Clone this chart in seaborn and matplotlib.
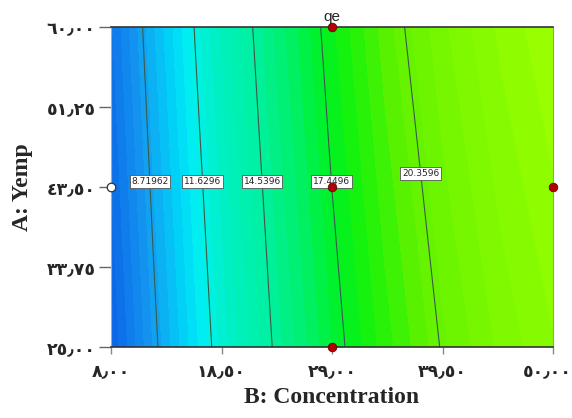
import numpy as np
import matplotlib
matplotlib.use("Agg")
import matplotlib.pyplot as plt
import matplotlib.transforms as mtransforms
import seaborn as sns
import pandas as pd
from matplotlib.colors import LinearSegmentedColormap

# ---- data ----
conc = [8.0, 12.0, 16.0, 20.0, 24.0, 29.0, 34.0, 39.5, 45.0, 50.0]      # B: Concentration
temp = [25.0, 42.5, 60.0]                                                # A: Temp
qe_t25 = [5.92, 8.45, 10.79, 12.93, 14.87, 17.01, 18.79, 20.44, 21.71, 22.54]
qe_t42 = [6.37, 8.90, 11.24, 13.38, 15.32, 17.46, 19.29, 20.94, 22.21, 23.04]
qe_t60 = [6.82, 9.35, 11.69, 13.83, 15.77, 17.91, 19.79, 21.44, 22.71, 23.54]
contour_levels = [8.71962, 11.6296, 14.5396, 17.4496, 20.3596]
level_labels = ["8.71962", "11.6296", "14.5396", "17.4496", "20.3596"]
label_pos_conc = [11.7, 16.6, 22.3, 28.8, 37.6]
label_pos_temp = [43.1, 43.1, 43.1, 43.1, 44.0]
design_conc = [29.0, 29.0, 29.0, 50.0]
design_temp = [60.0, 42.5, 25.0, 42.5]
design_conc_open = [8.0]
design_temp_open = [42.5]
x_ticks = [8.0, 18.5, 29.0, 39.5, 50.0]
x_ticklabels = ["٨٫٠٠", "١٨٫٥٠", "٢٩٫٠٠", "٣٩٫٥٠", "٥٠٫٠٠"]
y_ticks = [25.0, 33.75, 42.5, 51.25, 60.0]
y_ticklabels = ["٢٥٫٠٠", "٣٣٫٧٥", "٤٣٫٥٠", "٥١٫٢٥", "٦٠٫٠٠"]

sns.set_theme(style="white")
plt.rcParams['font.family'] = ['DejaVu Sans']

fig = plt.figure(figsize=(5.72, 4.18), dpi=100)
ax = fig.add_axes([111/572, 1-347/418, 442/572, 320/418])

Z = np.array([qe_t25, qe_t42, qe_t60])
X, Y = np.meshgrid(conc, temp)

zmin, zmax = 5.9, 23.6
stops = [(5.9, (10, 100, 232)), (8.3, (20, 150, 240)), (10.4, (0, 215, 248)),
         (11.3, (0, 240, 240)), (12.5, (0, 240, 200)), (14.5, (0, 240, 160)),
         (16.0, (0, 240, 110)), (17.5, (0, 242, 35)), (18.5, (25, 242, 10)),
         (20.0, (95, 242, 0)), (23.6, (155, 255, 0))]
cmap = LinearSegmentedColormap.from_list(
    "de", [((z - zmin) / (zmax - zmin), tuple(c / 255 for c in col)) for z, col in stops])

fill_levels = np.linspace(zmin, zmax, 36)
ax.contourf(X, Y, Z, levels=fill_levels, cmap=cmap, vmin=zmin, vmax=zmax, extend="both")
cs = ax.contour(X, Y, Z, levels=contour_levels, colors="#3c5a4a", linewidths=0.8)
fmt = {lv: lab for lv, lab in zip(contour_levels, level_labels)}
texts = ax.clabel(cs, fmt=fmt, inline=False, fontsize=6.5, colors="#222222",
                  manual=list(zip(label_pos_conc, label_pos_temp)))
for t in texts:
    t.set_rotation(0)
    t.set_bbox(dict(facecolor="white", edgecolor="#555555", pad=1.2, linewidth=0.6))

pts = pd.DataFrame({"conc": design_conc, "temp": design_temp})
sns.scatterplot(data=pts, x="conc", y="temp", ax=ax, color="#b00000", edgecolor="#700000",
                s=38, linewidth=0.6, zorder=5, clip_on=False)
pts2 = pd.DataFrame({"conc": design_conc_open, "temp": design_temp_open})
sns.scatterplot(data=pts2, x="conc", y="temp", ax=ax, color="white", edgecolor="#333333",
                s=38, linewidth=0.9, zorder=5, clip_on=False)

ax.set_xlim(8, 50)
ax.set_ylim(25, 60)
ax.set_xticks(x_ticks)
ax.set_xticklabels(x_ticklabels, fontsize=12.5, fontweight="bold")
ax.set_yticks(y_ticks)
ax.set_yticklabels(y_ticklabels, fontsize=12.5, fontweight="bold")
ax.tick_params(axis="x", length=5, width=1, color="#888888", pad=6, direction="out", bottom=True)
ax.tick_params(axis="y", length=9, width=1, color="#666666", pad=2, direction="out", left=True)
last = ax.get_xticklabels()[-1]
last.set_transform(last.get_transform() + mtransforms.ScaledTranslation(-6/100, 0, fig.dpi_scale_trans))
ax.set_xlabel("B: Concentration", fontsize=17, fontweight="bold",
              family="Liberation Serif", labelpad=5)
ax.set_ylabel("A: Yemp", fontsize=17, fontweight="bold",
              family="Liberation Serif", labelpad=10)
ax.set_title("qe", fontsize=11, family="Liberation Sans", pad=4)

for side, col, lw in [("top", "#333333", 1.2), ("bottom", "#333333", 1.2),
                      ("left", "#aaaaaa", 0.8), ("right", "#88aa66", 0.8)]:
    ax.spines[side].set_color(col)
    ax.spines[side].set_linewidth(lw)
    ax.spines[side].set_visible(True)

fig.savefig("out.png", dpi=100)
